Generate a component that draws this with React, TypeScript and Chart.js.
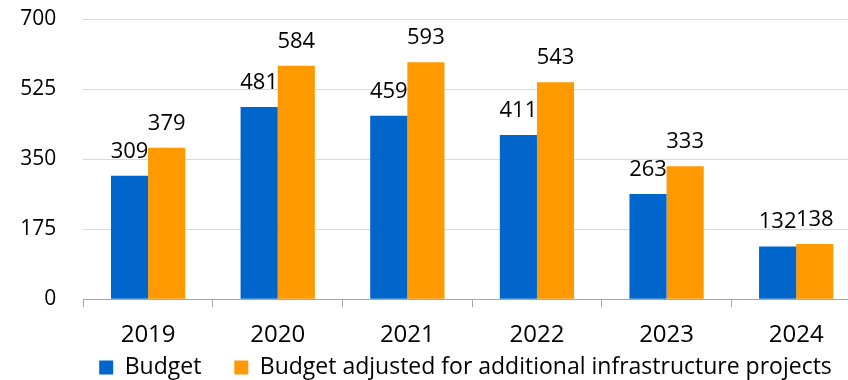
import React, { useEffect, useRef } from "react";
import { Chart, registerables } from "chart.js";

Chart.register(...registerables);

const categories = ["2019", "2020", "2021", "2022", "2023", "2024"];
const budget = [309, 481, 459, 411, 263, 132];
const adjusted = [379, 584, 593, 543, 333, 138];
const seriesNames = ["Budget", "Budget adjusted for additional infrastructure projects"];
const yTicks = [0, 175, 350, 525, 700];

const FONT = "'Open Sans', sans-serif";

const valueLabels = {
  id: "valueLabels",
  afterDatasetsDraw(chart: any) {
    const ctx = chart.ctx;
    ctx.save();
    ctx.font = `22px ${FONT}`;
    ctx.fillStyle = "#000000";
    ctx.textAlign = "center";
    ctx.textBaseline = "alphabetic";
    chart.data.datasets.forEach((ds: any, i: number) => {
      const meta = chart.getDatasetMeta(i);
      meta.data.forEach((el: any, j: number) => {
        ctx.fillText(String(ds.data[j]), el.x, el.y - 18);
      });
    });
    ctx.restore();
  },
};

// Moves the legend box: keeps wide item spacing while sitting just under the x axis.
const legendPlacement = {
  id: "legendPlacement",
  afterLayout(chart: any) {
    const lg = chart.legend;
    const xs = chart.scales.x;
    if (!lg || !xs) return;
    const pad = lg.options.labels.padding;
    const h = lg.bottom - lg.top;
    lg.top = xs.bottom - 8 - pad;
    lg.bottom = lg.top + h;
    const dx = 35;
    lg.left += dx;
    lg.right += dx;
  },
};

export default function App() {
  const ref = useRef<HTMLCanvasElement | null>(null);
  useEffect(() => {
    if (!ref.current) return;
    const chart = new Chart(ref.current, {
      type: "bar",
      data: {
        labels: categories,
        datasets: [
          {
            label: seriesNames[0],
            data: budget,
            backgroundColor: "#0066cc",
            borderWidth: 0,
            categoryPercentage: 0.573,
            barPercentage: 1,
          },
          {
            label: seriesNames[1],
            data: adjusted,
            backgroundColor: "#ff9900",
            borderWidth: 0,
            categoryPercentage: 0.573,
            barPercentage: 1,
          },
        ],
      },
      options: {
        responsive: false,
        animation: false,
        layout: { padding: { left: 0, right: 1, top: 19.5, bottom: 0 } },
        plugins: {
          legend: {
            position: "bottom",
            labels: {
              boxWidth: 14,
              boxHeight: 14,
              padding: 33,
              color: "#000000",
              font: { family: FONT, size: 23 },
            },
          },
          tooltip: { enabled: false },
        },
        scales: {
          x: {
            grid: {
              display: true,
              drawOnChartArea: false,
              drawTicks: true,
              tickLength: 8,
              color: "#a6a6a6",
              offset: true,
            },
            border: { display: true, color: "#a6a6a6", width: 1 },
            ticks: {
              color: "#000000",
              font: { family: FONT, size: 24 },
              padding: 14,
              maxRotation: 0,
            },
          },
          y: {
            min: 0,
            max: 700,
            afterBuildTicks: (s: any) => {
              s.ticks = yTicks.map((v) => ({ value: v }));
            },
            grid: {
              color: "#d9d9d9",
              drawTicks: true,
              tickLength: 27,
              tickColor: "rgba(0,0,0,0)",
              lineWidth: 1,
            },
            border: { display: false },
            ticks: {
              color: "#000000",
              font: { family: FONT, size: 21 },
              padding: 0,
            },
            afterFit: (s: any) => {
              s.width = 83.3;
            },
          },
        },
      },
      plugins: [valueLabels, legendPlacement],
    });
    return () => chart.destroy();
  }, []);
  return (
    <div
      style={{
        position: "fixed",
        left: 0,
        top: 0,
        width: 848,
        height: 380,
        overflow: "hidden",
        background: "#ffffff",
      }}
    >
      <canvas ref={ref} width={862} height={430} style={{ display: "block" }} />
    </div>
  );
}
